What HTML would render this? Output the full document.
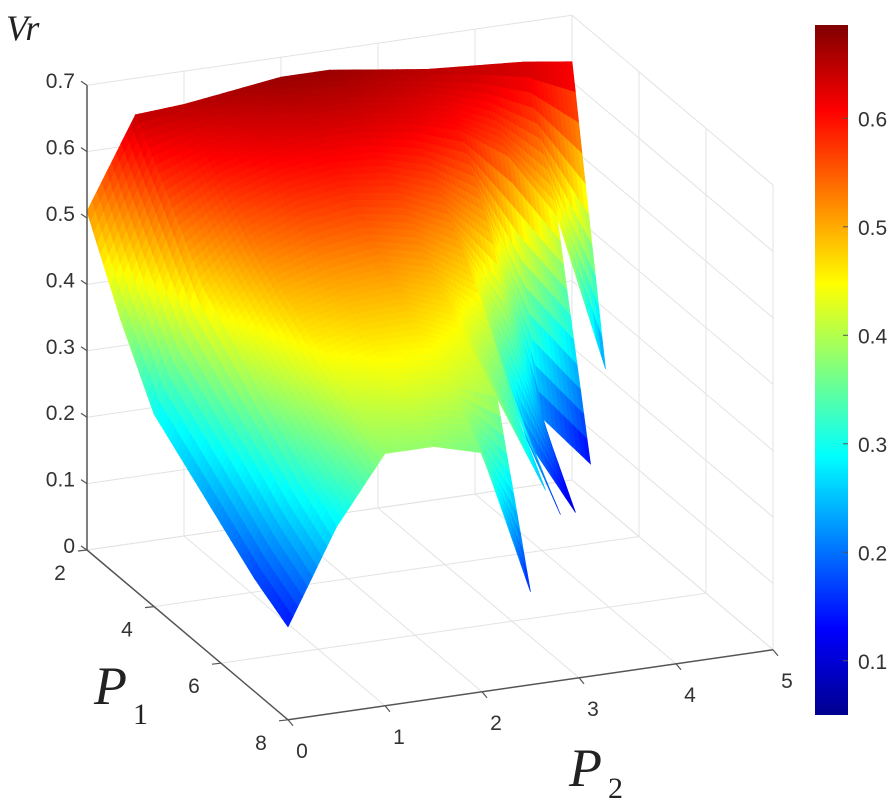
<!DOCTYPE html>
<html><head><meta charset="utf-8"><style>
html,body{margin:0;padding:0;background:#fff;width:896px;height:802px;overflow:hidden}
svg{display:block}
.tk{font-family:"Liberation Sans",sans-serif;font-size:21px;fill:#333}
.ti{font-family:"Liberation Serif",serif;font-style:italic;fill:#222}
.sb{font-family:"Liberation Serif",serif;fill:#222}
</style></head><body>
<svg id="chart" width="896" height="802" viewBox="0 0 896 802" xmlns="http://www.w3.org/2000/svg">
<defs>
<linearGradient id="jetg" x1="0" y1="1" x2="0" y2="0">
<stop offset="0" stop-color="#00008f"/><stop offset="0.125" stop-color="#0000ff"/>
<stop offset="0.375" stop-color="#00ffff"/><stop offset="0.625" stop-color="#ffff00"/>
<stop offset="0.875" stop-color="#ff0000"/><stop offset="1" stop-color="#800000"/>
</linearGradient>
</defs>
<g id="grid"></g>
<g id="surf"></g>
<g id="axes"></g>
<g>
<rect x="815" y="25" width="33" height="690" fill="url(#jetg)"/>
</g>
<g id="cbticks"></g>
<text class="ti" x="6" y="40" font-size="36">Vr</text>
<text class="ti" x="94" y="704" font-size="54">P</text>
<text class="sb" x="133" y="724" font-size="30">1</text>
<text class="ti" x="569" y="786" font-size="54">P</text>
<text class="sb" x="608" y="798" font-size="30">2</text>
</svg>
<script>
const p1Values=[2,3,4,5,6,7,8];
const p2Values=[0,0.5,1,1.5,2,2.5,3,3.5,4,4.5,5];
const vrRowP1_2=[0.51,0.645,0.65,0.66,0.67,0.67,0.66,0.65,0.645,0.64,0.63];
const vrRowP1_3=[0.39,0.56,0.60,0.62,0.63,0.63,0.62,0.60,0.55,0.45,0.21];
const vrRowP1_4=[0.29,0.47,0.54,0.57,0.58,0.57,0.54,0.47,0.20,0.12,null];
const vrRowP1_5=[0.25,0.42,0.49,0.51,0.52,0.50,0.45,0.22,0.10,null,null];
const vrRowP1_6=[0.21,0.37,0.45,0.47,0.47,0.44,0.33,0.15,null,null,null];
const vrRowP1_7=[0.17,0.32,0.41,0.43,0.42,0.39,0.24,null,null,null,null];
const vrRowP1_8=[0.14,0.28,0.38,0.38,0.36,0.14,null,null,null,null,null];
const vrGrid=[vrRowP1_2,vrRowP1_3,vrRowP1_4,vrRowP1_5,vrRowP1_6,vrRowP1_7,vrRowP1_8];
const zTicks=[0,0.1,0.2,0.3,0.4,0.5,0.6,0.7];
const p1Ticks=[2,4,6,8];
const p2Ticks=[0,1,2,3,4,5];
const cbTicks=[0.1,0.2,0.3,0.4,0.5,0.6];
const cMin=0.05,cMax=0.686;

const NS="http://www.w3.org/2000/svg";
function proj(p1,p2,z){return [87+33.5*(p1-2)+97*p2, 550+28.3*(p1-2)-14*p2-664*z];}
function jet(v){
  let t=(v-cMin)/(cMax-cMin);t=Math.max(0,Math.min(1,t));
  const f=x=>Math.round(255*Math.max(0,Math.min(1,x)));
  const r=f(Math.min(4*t-1.5,-4*t+4.5)),g=f(Math.min(4*t-0.5,-4*t+3.5)),b=f(Math.min(4*t+0.5,-4*t+2.5));
  return `rgb(${r},${g},${b})`;
}
function mk(tag,attrs,parent){const e=document.createElementNS(NS,tag);for(const k in attrs)e.setAttribute(k,attrs[k]);parent.appendChild(e);return e;}
const grid=document.getElementById('grid'),axes=document.getElementById('axes'),surf=document.getElementById('surf'),cbt=document.getElementById('cbticks');
function line(a,b,col,w,par,name){const l=mk('line',{x1:a[0],y1:a[1],x2:b[0],y2:b[1],stroke:col,'stroke-width':w},par);

}
const gc="#e3e3e3";
p2Ticks.forEach(p=>line(proj(2,p,0),proj(2,p,0.7),gc,1,grid,'back-wall-gridline'));
zTicks.forEach(z=>line(proj(2,0,z),proj(2,5,z),gc,1,grid,'back-wall-gridline'));
p1Ticks.forEach(p=>line(proj(p,5,0),proj(p,5,0.7),gc,1,grid,'side-wall-gridline'));
zTicks.forEach(z=>line(proj(2,5,z),proj(8,5,z),gc,1,grid,'side-wall-gridline'));
p1Ticks.forEach(p=>line(proj(p,0,0),proj(p,5,0),gc,1,grid,'floor-gridline'));
p2Ticks.forEach(p=>line(proj(2,p,0),proj(8,p,0),gc,1,grid,'floor-gridline'));

const quads=[];const N=10;
for(let i=0;i<p1Values.length-1;i++)for(let j=0;j<p2Values.length-1;j++){
  const z00=vrGrid[i][j],z01=vrGrid[i][j+1],z10=vrGrid[i+1][j],z11=vrGrid[i+1][j+1];
  if(z00==null||z01==null||z10==null||z11==null)continue;
  const a0=p1Values[i],a1=p1Values[i+1],b0=p2Values[j],b1=p2Values[j+1];
  for(let u=0;u<N;u++)for(let v=0;v<N;v++){
    const pts=[];let zs=0;
    [[u,v],[u+1,v],[u+1,v+1],[u,v+1]].forEach(([uu,vv])=>{
      const s=uu/N,t=vv/N;
      const z=z00*(1-s)*(1-t)+z10*s*(1-t)+z01*(1-s)*t+z11*s*t;
      zs+=z;pts.push(proj(a0+(a1-a0)*s,b0+(b1-b0)*t,z));
    });
    const pc=a0+(a1-a0)*(u+0.5)/N,qc=b0+(b1-b0)*(v+0.5)/N;
    quads.push({d:28.3*pc-14*qc,pts,z:zs/4});
  }
}
quads.sort((a,b)=>a.d-b.d);
quads.forEach(q=>{const c=jet(q.z);
  const p=mk('polygon',{points:q.pts.map(p=>p[0].toFixed(1)+','+p[1].toFixed(1)).join(' '),fill:c,stroke:c,'stroke-width':0.7},surf);
  
  
});

const ac="#555";
line(proj(2,0,0),proj(2,0,0.7),ac,1.5,axes,'z-axis-line');
line(proj(2,0,0),proj(8,0,0),ac,1.5,axes,'p1-axis-line');
line(proj(8,0,0),proj(8,5,0),ac,1.5,axes,'p2-axis-line');
function txt(x,y,s,anchor,par,name){const t=mk('text',{x:x,y:y,class:'tk','text-anchor':anchor},par);t.textContent=s;

}
zTicks.forEach(z=>{const p=proj(2,0,z);line(p,[p[0]-6,p[1]-4],ac,1.2,axes,'z-tick');txt(p[0]-12,p[1]+3,String(z),'end',axes,'z-tick-label');});
p1Ticks.forEach(v=>{const p=proj(v,0,0);line(p,[p[0]-9,p[1]+1],ac,1.2,axes,'p1-tick');txt(p[0]-27,p[1]+30,String(v),'middle',axes,'p1-tick-label');});
p2Ticks.forEach(v=>{const p=proj(8,v,0);line(p,[p[0]+5,p[1]+6],ac,1.2,axes,'p2-tick');txt(p[0]+14,p[1]+38,String(v),'middle',axes,'p2-tick-label');});
cbTicks.forEach(v=>{const y=25+690*(cMax-v)/(cMax-cMin);
  line([848,y],[843,y],ac,1,cbt,'colorbar-tick');
  txt(858,y+8,String(v),'start',cbt,'colorbar-tick-label');});
</script>
</body></html>
